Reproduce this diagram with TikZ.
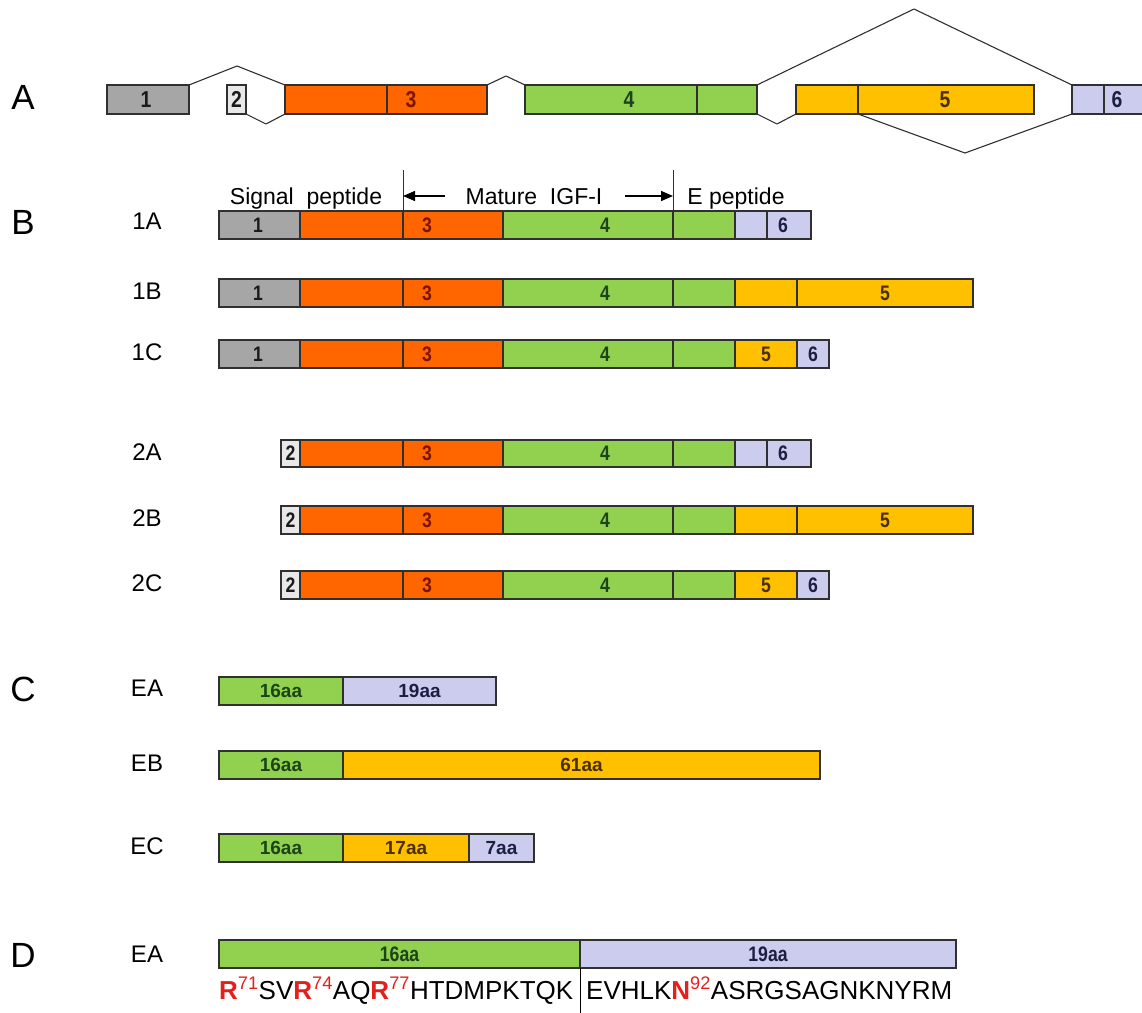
\documentclass[tikz,border=0pt]{standalone}
\usepackage{fontspec}
\setmainfont{Liberation Sans}
\newfontfamily\condfont[FakeStretch=0.84]{Liberation Sans}
\usetikzlibrary{arrows.meta}
\definecolor{cGy}{HTML}{A6A6A6}
\definecolor{cLg}{HTML}{E8E8E8}
\definecolor{cOr}{HTML}{FF6600}
\definecolor{cGr}{HTML}{92D050}
\definecolor{cYe}{HTML}{FFC000}
\definecolor{cLv}{HTML}{CCCCEE}
\definecolor{tOne}{HTML}{1A1A1A}
\definecolor{tOr}{HTML}{7A1400}
\definecolor{tGr}{HTML}{1C4418}
\definecolor{tYe}{HTML}{4A3000}
\definecolor{tLv}{HTML}{1E1E44}
\definecolor{lineC}{HTML}{303030}
\definecolor{seqRed}{HTML}{E3201B}
\newcommand\fs[1]{\fontsize{#1}{#1}\selectfont}
\tikzset{
  segbox/.style={draw=lineC, line width=1.1pt, inner sep=0pt, outer sep=0pt},
  numA/.style={inner sep=0pt, font=\condfont\bfseries\fs{23}},
  numB/.style={inner sep=0pt, font=\condfont\bfseries\fs{21}},
  aaC/.style={inner sep=0pt, font=\bfseries\fs{19}},
  aaD/.style={inner sep=0pt, font=\condfont\bfseries\fs{21}},
  sect/.style={inner sep=0pt, font=\fs{35}},
  rowlab/.style={inner sep=0pt, font=\fs{24}},
  hdr/.style={inner sep=0pt, anchor=base, font=\fs{23}},
  seqtxt/.style={inner sep=0pt, anchor=base west, font=\fs{26}},
  splice/.style={draw=lineC, line width=1.1pt, line join=round},
}
\newcommand\seg[6]{\node[segbox, fill=#6, minimum width={#3pt-#2pt}, minimum height={#5pt-#4pt}, anchor=north west] (#1) at (#2,#4) {};}
\newcommand\headone[3]{%
  \seg{#1h}{219}{300}{#2}{#3}{cGy}
  \node[numB, text=tOne] (#1lh) at (258,{(#2+#3)/2}) {1};}
\newcommand\headtwo[3]{%
  \seg{#1h}{281}{300}{#2}{#3}{cLg}
  \node[numB, text=tOne] (#1lh) at (290.5,{(#2+#3)/2}) {2};}
\newcommand\core[3]{%
  \seg{#1o1}{300}{403}{#2}{#3}{cOr}
  \seg{#1o2}{403}{503}{#2}{#3}{cOr}
  \seg{#1g1}{503}{673}{#2}{#3}{cGr}
  \seg{#1g2}{673}{735}{#2}{#3}{cGr}
  \node[numB, text=tOr] (#1l3) at (427,{(#2+#3)/2}) {3};
  \node[numB, text=tGr] (#1l4) at (605,{(#2+#3)/2}) {4};}
\newcommand\tailA[3]{%
  \seg{#1t1}{735}{767}{#2}{#3}{cLv}
  \seg{#1t2}{767}{811}{#2}{#3}{cLv}
  \node[numB, text=tLv] (#1l6) at (783,{(#2+#3)/2}) {6};}
\newcommand\tailB[3]{%
  \seg{#1t1}{735}{797}{#2}{#3}{cYe}
  \seg{#1t2}{797}{973}{#2}{#3}{cYe}
  \node[numB, text=tYe] (#1l5) at (885,{(#2+#3)/2}) {5};}
\newcommand\tailC[3]{%
  \seg{#1t1}{735}{797}{#2}{#3}{cYe}
  \seg{#1t2}{797}{829}{#2}{#3}{cLv}
  \node[numB, text=tYe] (#1l5) at (766,{(#2+#3)/2}) {5};
  \node[numB, text=tLv] (#1l6) at (813,{(#2+#3)/2}) {6};}
\newcommand\redres[2]{\textcolor{seqRed}{\bfseries #1\textsuperscript{\mdseries #2}}}
\begin{document}
\begin{tikzpicture}[x=1pt, y=-1pt]
\useasboundingbox (0,0) rectangle (1142,1012);
\fill[white] (0,0) rectangle (1142,1012);
% ---------- A ----------
\node[sect] (secA) at (23,97) {A};
\seg{A1}{107}{189}{85}{114}{cGy}
\seg{A2}{227}{246}{85}{114}{cLg}
\seg{A3a}{285}{387}{85}{114}{cOr}
\seg{A3b}{387}{487}{85}{114}{cOr}
\seg{A4a}{525}{697}{85}{114}{cGr}
\seg{A4b}{697}{757}{85}{114}{cGr}
\seg{A5a}{796}{858}{85}{114}{cYe}
\seg{A5b}{858}{1034}{85}{114}{cYe}
\seg{A6a}{1072}{1104}{85}{114}{cLv}
\seg{A6b}{1104}{1150}{85}{114}{cLv}
\node[numA, text=tOne] (lA1) at (146,99.5) {1};
\node[numA, text=tOne] (lA2) at (236.5,99.5) {2};
\node[numA, text=tOr] (lA3) at (411,99.5) {3};
\node[numA, text=tGr] (lA4) at (629,99.5) {4};
\node[numA, text=tYe] (lA5) at (945,99.5) {5};
\node[numA, text=tLv] (lA6) at (1117,99.5) {6};
\coordinate (p13) at (237,66);
\coordinate (p23) at (266,124);
\coordinate (p34) at (506,76);
\coordinate (p45) at (777,124);
\coordinate (p46) at (914,9);
\coordinate (p56) at (965,153);
\draw[splice] (A1.north east) -- (p13) -- (A3a.north west);
\draw[splice] (A2.south east) -- (p23) -- (A3a.south west);
\draw[splice] (A3b.north east) -- (p34) -- (A4a.north west);
\draw[splice] (A4b.south east) -- (p45) -- (A5a.south west);
\draw[splice] (A4b.north east) -- (p46) -- (A6a.north west);
\draw[splice] (A5b.south west) -- (p56) -- (A6a.south west);
% ---------- B ----------
\node[sect] (secB) at (23,222) {B};
\node[hdr] (sig) at (306,204) {Signal\ \ peptide};
\node[hdr] (mat) at (534,204) {Mature\ \ IGF-I};
\node[hdr] (epep) at (736,204) {E peptide};
\node[rowlab] (l1A) at (147,221) {1A};
\node[rowlab] (l1B) at (147,291) {1B};
\node[rowlab] (l1C) at (147,352) {1C};
\node[rowlab] (l2A) at (147,452) {2A};
\node[rowlab] (l2B) at (147,518) {2B};
\node[rowlab] (l2C) at (147,583) {2C};
\headone{rOA}{211}{239}\core{rOA}{211}{239}\tailA{rOA}{211}{239}
\headone{rOB}{279}{307}\core{rOB}{279}{307}\tailB{rOB}{279}{307}
\headone{rOC}{340}{368}\core{rOC}{340}{368}\tailC{rOC}{340}{368}
\headtwo{rTA}{440}{467}\core{rTA}{440}{467}\tailA{rTA}{440}{467}
\headtwo{rTB}{506}{534}\core{rTB}{506}{534}\tailB{rTB}{506}{534}
\headtwo{rTC}{571}{599}\core{rTC}{571}{599}\tailC{rTC}{571}{599}
\coordinate (vL) at (403,170);
\coordinate (vR) at (673,170);
\draw[draw=lineC, line width=1pt] (rOAo2.north west) -- (vL);
\draw[draw=lineC, line width=1pt] (rOAg2.north west) -- (vR);
\coordinate (arL) at (445,196);
\coordinate (arR) at (625,196);
\draw[draw=black, line width=1.4pt, -{Triangle[length=12pt,width=10pt]}] (arL) -- (vL |- arL);
\draw[draw=black, line width=1.4pt, -{Triangle[length=12pt,width=10pt]}] (arR) -- (vR |- arR);
% ---------- C ----------
\node[sect] (secC) at (23,689) {C};
\node[rowlab] (lEA) at (147,688) {EA};
\node[rowlab] (lEB) at (147,763) {EB};
\node[rowlab] (lEC) at (147,846) {EC};
\seg{cA1}{219}{343}{677}{705}{cGr}
\seg{cA2}{343}{496}{677}{705}{cLv}
\node[aaC, text=tGr] at (cA1) {16aa};
\node[aaC, text=tLv] at (cA2) {19aa};
\seg{cB1}{219}{343}{751}{779}{cGr}
\seg{cB2}{343}{820}{751}{779}{cYe}
\node[aaC, text=tGr] at (cB1) {16aa};
\node[aaC, text=tYe] at (cB2) {61aa};
\seg{cC1}{219}{343}{834}{862}{cGr}
\seg{cC2}{343}{469}{834}{862}{cYe}
\seg{cC3}{469}{534}{834}{862}{cLv}
\node[aaC, text=tGr] at (cC1) {16aa};
\node[aaC, text=tYe] at (cC2) {17aa};
\node[aaC, text=tLv] at (cC3) {7aa};
% ---------- D ----------
\node[sect] (secD) at (23,955) {D};
\node[rowlab] (lDEA) at (147,954) {EA};
\seg{dA1}{219}{580}{940}{968}{cGr}
\seg{dA2}{580}{956}{940}{968}{cLv}
\node[aaD, text=tGr] at (dA1) {16aa};
\node[aaD, text=tLv] at (dA2) {19aa};
\draw[draw=black, line width=1pt] (dA1.south east) -- ++(0,50);
\node[seqtxt] (seqL) at (219,999) {\redres{R}{71}SV\redres{R}{74}AQ\redres{R}{77}HTDMPKTQK};
\node[seqtxt] (seqR) at (586,999) {EVHLK\redres{N}{92}ASRGSAGNKNYRM};
\end{tikzpicture}
\end{document}
